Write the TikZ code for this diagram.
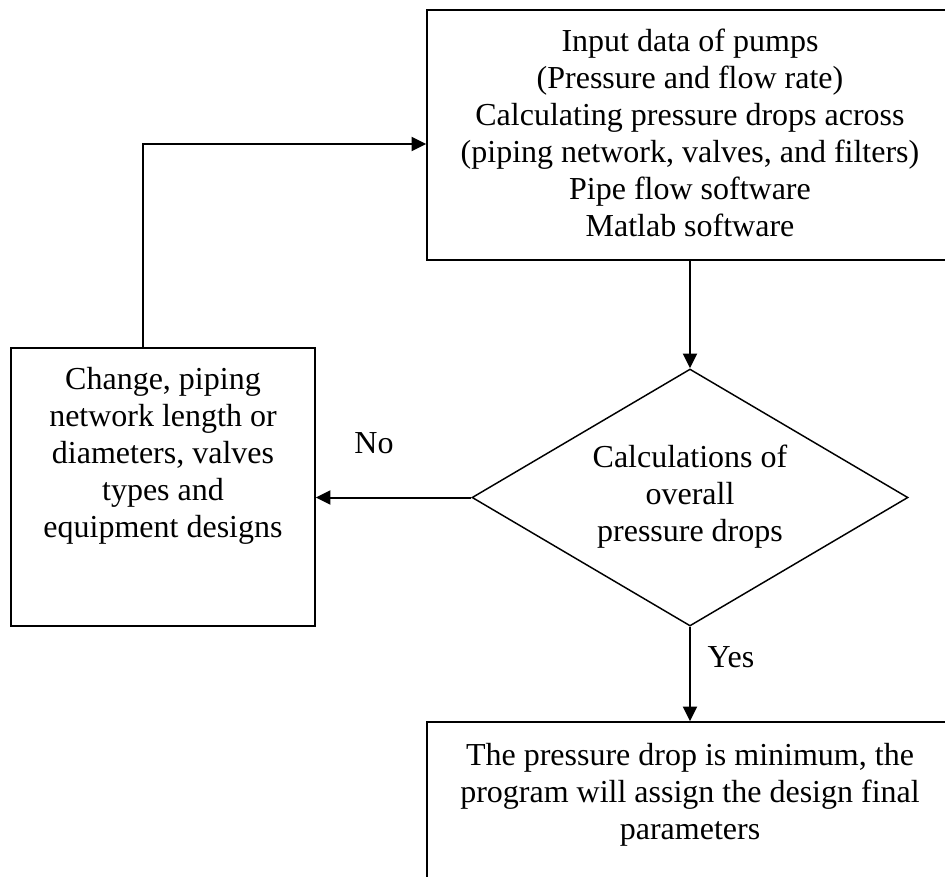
\documentclass[tikz,border=0pt]{standalone}
\usepackage{fontspec}
\setmainfont{Liberation Serif}
\usetikzlibrary{arrows.meta,shapes.geometric}
\begin{document}
\begin{tikzpicture}[x=0.75pt,y=-0.75pt,
  txt/.style={font=\fontsize{24}{27.75}\selectfont, align=center, inner sep=0pt},
  box/.style={draw, line width=1.1pt, rectangle, inner sep=0pt},
  decision/.style={draw, line width=1.1pt, diamond, inner sep=0pt, shape aspect=1.7},
  conn/.style={line width=1.5pt, -{Triangle[length=11pt,width=10.5pt]}},
  lbl/.style={font=\fontsize{24}{27.75}\selectfont, inner sep=0pt}
  ]
\useasboundingbox (0,0) rectangle (945,876);
\fill[white] (0,0) rectangle (945,876);
\clip (0,0) rectangle (945,876);

% top process box (runs past the right edge)
\node[box, minimum width=394.5pt, minimum height=187.5pt] (top) at (690,135) {};
\node[txt] (toptext) at (690,133) {Input data of pumps\\(Pressure and flow rate)\\Calculating pressure drops across\\(piping network, valves, and filters)\\Pipe flow software\\Matlab software};

% decision
\node[decision, minimum width=327pt, minimum height=192.75pt] (dec) at (690,497.5) {};
\node[txt] (dectext) at (690,497) {Calculations of\\overall\\pressure drops};

% left change box
\node[box, minimum width=228pt, minimum height=208.5pt] (left) at (163,487) {};
\node[txt] (lefttext) at (163,456) {Change, piping\\network length or\\diameters, valves\\types and\\equipment designs};

% bottom result box (runs past the right and bottom edges)
\node[box, minimum width=394.5pt, minimum height=187.5pt] (bottom) at (690,847) {};
\node[txt] (bottomtext) at (690,795) {The pressure drop is minimum, the\\program will assign the design final\\parameters};

% connectors
\draw[conn] (top.south) -- (dec.north);
\draw[conn] (dec.west) -- (dec.west -| left.east);
\draw[conn] (dec.south) -- (bottom.north);
\draw[conn] ([xshift=-15pt]left.north) |- ([yshift=-6.75pt]top.west);

% labels
\node[lbl] (no) at (374,443) {No};
\node[lbl] (yes) at (731,657) {Yes};
\end{tikzpicture}
\end{document}
